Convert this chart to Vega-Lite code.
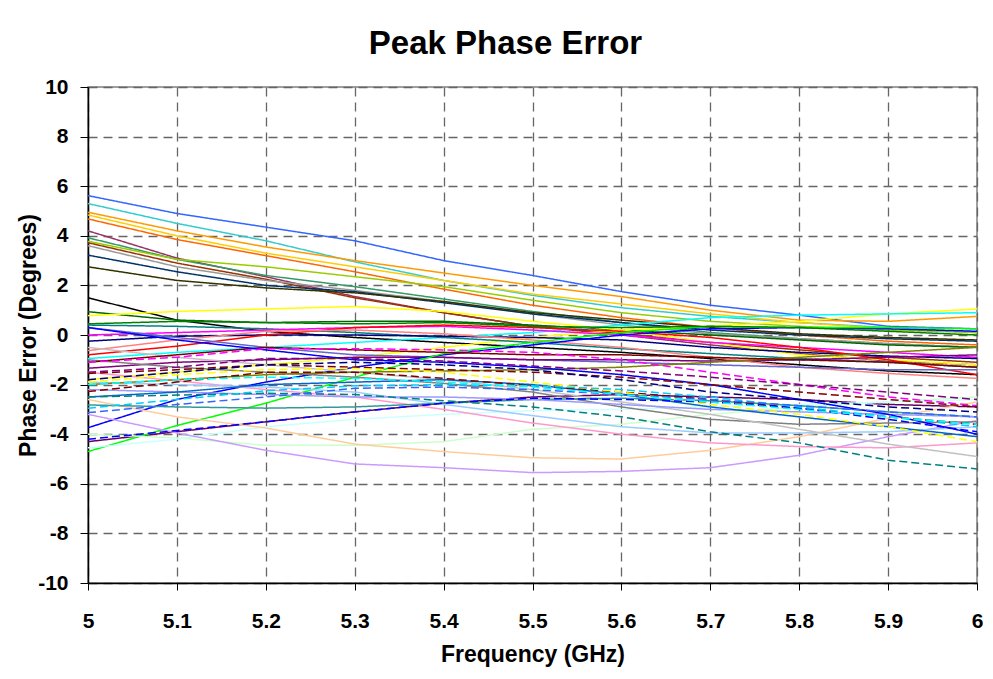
{
"$schema": "https://vega.github.io/schema/vega-lite/v6.json",
"width": 889, "height": 496,
"autosize": {"type": "none"},
"padding": {"left": 88, "top": 87, "right": 16, "bottom": 96},
"background": "white",
"title": {"text": "Peak Phase Error", "font": "Liberation Sans", "fontSize": 33, "fontWeight": "bold", "color": "black", "anchor": "middle", "dx": -27, "offset": 15},
"config": {"view": {"stroke": "#808080", "strokeWidth": 1.5}},
"data": {"values": [
{"s":"a","f":5,"v":5.62},{"s":"a","f":5.1,"v":4.9},{"s":"a","f":5.2,"v":4.35},{"s":"a","f":5.3,"v":3.8},{"s":"a","f":5.4,"v":3.0},{"s":"a","f":5.5,"v":2.4},{"s":"a","f":5.6,"v":1.75},{"s":"a","f":5.7,"v":1.2},{"s":"a","f":5.8,"v":0.8},{"s":"a","f":5.9,"v":0.35},{"s":"a","f":6,"v":0.25},
{"s":"b","f":5,"v":5.3},{"s":"b","f":5.1,"v":4.5},{"s":"b","f":5.2,"v":3.8},{"s":"b","f":5.3,"v":2.95},{"s":"b","f":5.4,"v":2.2},{"s":"b","f":5.5,"v":1.6},{"s":"b","f":5.6,"v":1.1},{"s":"b","f":5.7,"v":0.75},{"s":"b","f":5.8,"v":0.5},{"s":"b","f":5.9,"v":0.3},{"s":"b","f":6,"v":0.1},
{"s":"c","f":5,"v":4.95},{"s":"c","f":5.1,"v":4.2},{"s":"c","f":5.2,"v":3.55},{"s":"c","f":5.3,"v":3.0},{"s":"c","f":5.4,"v":2.5},{"s":"c","f":5.5,"v":2.0},{"s":"c","f":5.6,"v":1.55},{"s":"c","f":5.7,"v":1.0},{"s":"c","f":5.8,"v":0.6},{"s":"c","f":5.9,"v":0.55},{"s":"c","f":6,"v":0.75},
{"s":"d","f":5,"v":4.84},{"s":"d","f":5.1,"v":4.0},{"s":"d","f":5.2,"v":3.3},{"s":"d","f":5.3,"v":2.75},{"s":"d","f":5.4,"v":2.2},{"s":"d","f":5.5,"v":1.65},{"s":"d","f":5.6,"v":1.25},{"s":"d","f":5.7,"v":0.85},{"s":"d","f":5.8,"v":0.5},{"s":"d","f":5.9,"v":0.25},{"s":"d","f":6,"v":0.1},
{"s":"e","f":5,"v":4.68},{"s":"e","f":5.1,"v":3.85},{"s":"e","f":5.2,"v":3.2},{"s":"e","f":5.3,"v":2.55},{"s":"e","f":5.4,"v":1.85},{"s":"e","f":5.5,"v":1.2},{"s":"e","f":5.6,"v":0.7},{"s":"e","f":5.7,"v":0.3},{"s":"e","f":5.8,"v":0.0},{"s":"e","f":5.9,"v":-0.25},{"s":"e","f":6,"v":-0.4},
{"s":"f","f":5,"v":4.2},{"s":"f","f":5.1,"v":3.1},{"s":"f","f":5.2,"v":2.35},{"s":"f","f":5.3,"v":1.55},{"s":"f","f":5.4,"v":0.9},{"s":"f","f":5.5,"v":0.35},{"s":"f","f":5.6,"v":0.0},{"s":"f","f":5.7,"v":-0.4},{"s":"f","f":5.8,"v":-0.75},{"s":"f","f":5.9,"v":-1.05},{"s":"f","f":6,"v":-1.2},
{"s":"g","f":5,"v":3.92},{"s":"g","f":5.1,"v":3.05},{"s":"g","f":5.2,"v":2.4},{"s":"g","f":5.3,"v":1.95},{"s":"g","f":5.4,"v":1.45},{"s":"g","f":5.5,"v":0.95},{"s":"g","f":5.6,"v":0.5},{"s":"g","f":5.7,"v":0.1},{"s":"g","f":5.8,"v":-0.15},{"s":"g","f":5.9,"v":-0.35},{"s":"g","f":6,"v":-0.5},
{"s":"h","f":5,"v":3.78},{"s":"h","f":5.1,"v":3.05},{"s":"h","f":5.2,"v":2.75},{"s":"h","f":5.3,"v":2.35},{"s":"h","f":5.4,"v":1.95},{"s":"h","f":5.5,"v":1.4},{"s":"h","f":5.6,"v":0.9},{"s":"h","f":5.7,"v":0.55},{"s":"h","f":5.8,"v":0.35},{"s":"h","f":5.9,"v":0.2},{"s":"h","f":6,"v":0.1},
{"s":"i","f":5,"v":3.72},{"s":"i","f":5.1,"v":2.9},{"s":"i","f":5.2,"v":2.25},{"s":"i","f":5.3,"v":1.5},{"s":"i","f":5.4,"v":0.9},{"s":"i","f":5.5,"v":0.35},{"s":"i","f":5.6,"v":0.05},{"s":"i","f":5.7,"v":-0.3},{"s":"i","f":5.8,"v":-0.6},{"s":"i","f":5.9,"v":-0.9},{"s":"i","f":6,"v":-1.1},
{"s":"j","f":5,"v":3.6},{"s":"j","f":5.1,"v":2.75},{"s":"j","f":5.2,"v":2.2},{"s":"j","f":5.3,"v":1.8},{"s":"j","f":5.4,"v":1.35},{"s":"j","f":5.5,"v":0.85},{"s":"j","f":5.6,"v":0.4},{"s":"j","f":5.7,"v":0.05},{"s":"j","f":5.8,"v":-0.15},{"s":"j","f":5.9,"v":-0.35},{"s":"j","f":6,"v":-0.5},
{"s":"k","f":5,"v":3.22},{"s":"k","f":5.1,"v":2.55},{"s":"k","f":5.2,"v":2.0},{"s":"k","f":5.3,"v":1.75},{"s":"k","f":5.4,"v":1.3},{"s":"k","f":5.5,"v":0.85},{"s":"k","f":5.6,"v":0.5},{"s":"k","f":5.7,"v":0.2},{"s":"k","f":5.8,"v":0.0},{"s":"k","f":5.9,"v":-0.15},{"s":"k","f":6,"v":-0.25},
{"s":"l","f":5,"v":2.75},{"s":"l","f":5.1,"v":2.2},{"s":"l","f":5.2,"v":1.9},{"s":"l","f":5.3,"v":1.7},{"s":"l","f":5.4,"v":1.35},{"s":"l","f":5.5,"v":0.9},{"s":"l","f":5.6,"v":0.6},{"s":"l","f":5.7,"v":0.3},{"s":"l","f":5.8,"v":0.05},{"s":"l","f":5.9,"v":-0.1},{"s":"l","f":6,"v":-0.2},
{"s":"m","f":5,"v":1.5},{"s":"m","f":5.1,"v":0.6},{"s":"m","f":5.2,"v":0.15},{"s":"m","f":5.3,"v":-0.1},{"s":"m","f":5.4,"v":-0.3},{"s":"m","f":5.5,"v":-0.5},{"s":"m","f":5.6,"v":-0.7},{"s":"m","f":5.7,"v":-0.95},{"s":"m","f":5.8,"v":-1.2},{"s":"m","f":5.9,"v":-1.45},{"s":"m","f":6,"v":-1.6},
{"s":"n","f":5,"v":0.94},{"s":"n","f":5.1,"v":0.6},{"s":"n","f":5.2,"v":0.5},{"s":"n","f":5.3,"v":0.55},{"s":"n","f":5.4,"v":0.55},{"s":"n","f":5.5,"v":0.4},{"s":"n","f":5.6,"v":0.2},{"s":"n","f":5.7,"v":0.0},{"s":"n","f":5.8,"v":-0.2},{"s":"n","f":5.9,"v":-0.4},{"s":"n","f":6,"v":-0.5},
{"s":"o","f":5,"v":0.78},{"s":"o","f":5.1,"v":0.95},{"s":"o","f":5.2,"v":1.05},{"s":"o","f":5.3,"v":1.15},{"s":"o","f":5.4,"v":0.95},{"s":"o","f":5.5,"v":0.55},{"s":"o","f":5.6,"v":0.2},{"s":"o","f":5.7,"v":-0.3},{"s":"o","f":5.8,"v":-0.8},{"s":"o","f":5.9,"v":-1.0},{"s":"o","f":6,"v":-1.2},
{"s":"p","f":5,"v":-1.8},{"s":"p","f":5.1,"v":-1.5},{"s":"p","f":5.2,"v":-1.2},{"s":"p","f":5.3,"v":-0.9},{"s":"p","f":5.4,"v":-0.5},{"s":"p","f":5.5,"v":-0.1},{"s":"p","f":5.6,"v":0.2},{"s":"p","f":5.7,"v":0.35},{"s":"p","f":5.8,"v":0.55},{"s":"p","f":5.9,"v":0.85},{"s":"p","f":6,"v":1.05},
{"s":"q","f":5,"v":-0.95},{"s":"q","f":5.1,"v":-0.7},{"s":"q","f":5.2,"v":-0.5},{"s":"q","f":5.3,"v":-0.3},{"s":"q","f":5.4,"v":-0.1},{"s":"q","f":5.5,"v":0.1},{"s":"q","f":5.6,"v":0.4},{"s":"q","f":5.7,"v":0.7},{"s":"q","f":5.8,"v":0.8},{"s":"q","f":5.9,"v":0.85},{"s":"q","f":6,"v":0.9},
{"s":"r","f":5,"v":0.4},{"s":"r","f":5.1,"v":0.35},{"s":"r","f":5.2,"v":0.25},{"s":"r","f":5.3,"v":0.1},{"s":"r","f":5.4,"v":-0.1},{"s":"r","f":5.5,"v":-0.3},{"s":"r","f":5.6,"v":-0.55},{"s":"r","f":5.7,"v":-0.75},{"s":"r","f":5.8,"v":-0.95},{"s":"r","f":5.9,"v":-1.1},{"s":"r","f":6,"v":-1.3},
{"s":"s","f":5,"v":0.0},{"s":"s","f":5.1,"v":0.1},{"s":"s","f":5.2,"v":0.2},{"s":"s","f":5.3,"v":0.3},{"s":"s","f":5.4,"v":0.35},{"s":"s","f":5.5,"v":0.2},{"s":"s","f":5.6,"v":0.0},{"s":"s","f":5.7,"v":-0.3},{"s":"s","f":5.8,"v":-0.5},{"s":"s","f":5.9,"v":-0.7},{"s":"s","f":6,"v":-0.9},
{"s":"t","f":5,"v":-0.25},{"s":"t","f":5.1,"v":-0.05},{"s":"t","f":5.2,"v":0.0},{"s":"t","f":5.3,"v":0.0},{"s":"t","f":5.4,"v":-0.05},{"s":"t","f":5.5,"v":-0.1},{"s":"t","f":5.6,"v":-0.2},{"s":"t","f":5.7,"v":-0.5},{"s":"t","f":5.8,"v":-0.7},{"s":"t","f":5.9,"v":-0.85},{"s":"t","f":6,"v":-0.95},
{"s":"u","f":5,"v":-0.8},{"s":"u","f":5.1,"v":-0.45},{"s":"u","f":5.2,"v":0.0},{"s":"u","f":5.3,"v":0.3},{"s":"u","f":5.4,"v":0.4},{"s":"u","f":5.5,"v":0.3},{"s":"u","f":5.6,"v":0.15},{"s":"u","f":5.7,"v":-0.1},{"s":"u","f":5.8,"v":-0.5},{"s":"u","f":5.9,"v":-1.0},{"s":"u","f":6,"v":-1.6},
{"s":"v","f":5,"v":-0.63},{"s":"v","f":5.1,"v":-0.2},{"s":"v","f":5.2,"v":0.15},{"s":"v","f":5.3,"v":0.2},{"s":"v","f":5.4,"v":0.05},{"s":"v","f":5.5,"v":-0.2},{"s":"v","f":5.6,"v":-0.5},{"s":"v","f":5.7,"v":-0.9},{"s":"v","f":5.8,"v":-1.3},{"s":"v","f":5.9,"v":-1.55},{"s":"v","f":6,"v":-1.75},
{"s":"w","f":5,"v":0.3},{"s":"w","f":5.1,"v":-0.1},{"s":"w","f":5.2,"v":-0.5},{"s":"w","f":5.3,"v":-0.8},{"s":"w","f":5.4,"v":-0.9},{"s":"w","f":5.5,"v":-1.0},{"s":"w","f":5.6,"v":-1.1},{"s":"w","f":5.7,"v":-1.2},{"s":"w","f":5.8,"v":-1.3},{"s":"w","f":5.9,"v":-1.4},{"s":"w","f":6,"v":-1.4},
{"s":"x","f":5,"v":-1.34},{"s":"x","f":5.1,"v":-1.1},{"s":"x","f":5.2,"v":-1.0},{"s":"x","f":5.3,"v":-0.9},{"s":"x","f":5.4,"v":-0.9},{"s":"x","f":5.5,"v":-1.0},{"s":"x","f":5.6,"v":-1.0},{"s":"x","f":5.7,"v":-1.05},{"s":"x","f":5.8,"v":-1.0},{"s":"x","f":5.9,"v":-0.9},{"s":"x","f":6,"v":-0.8},
{"s":"y","f":5,"v":-3.74},{"s":"y","f":5.1,"v":-2.6},{"s":"y","f":5.2,"v":-1.9},{"s":"y","f":5.3,"v":-1.3},{"s":"y","f":5.4,"v":-0.8},{"s":"y","f":5.5,"v":-0.4},{"s":"y","f":5.6,"v":0.0},{"s":"y","f":5.7,"v":0.25},{"s":"y","f":5.8,"v":0.3},{"s":"y","f":5.9,"v":0.25},{"s":"y","f":6,"v":0.15},
{"s":"z","f":5,"v":-4.3},{"s":"z","f":5.1,"v":-3.9},{"s":"z","f":5.2,"v":-3.5},{"s":"z","f":5.3,"v":-3.1},{"s":"z","f":5.4,"v":-2.75},{"s":"z","f":5.5,"v":-2.5},{"s":"z","f":5.6,"v":-2.4},{"s":"z","f":5.7,"v":-2.5},{"s":"z","f":5.8,"v":-2.6},{"s":"z","f":5.9,"v":-2.8},{"s":"z","f":6,"v":-2.9},
{"s":"aa","f":5,"v":-4.7},{"s":"aa","f":5.1,"v":-3.65},{"s":"aa","f":5.2,"v":-2.75},{"s":"aa","f":5.3,"v":-1.7},{"s":"aa","f":5.4,"v":-0.75},{"s":"aa","f":5.5,"v":-0.3},{"s":"aa","f":5.6,"v":0.1},{"s":"aa","f":5.7,"v":0.35},{"s":"aa","f":5.8,"v":0.3},{"s":"aa","f":5.9,"v":0.3},{"s":"aa","f":6,"v":0.25},
{"s":"ab","f":5,"v":-4.0},{"s":"ab","f":5.1,"v":-4.15},{"s":"ab","f":5.2,"v":-4.45},{"s":"ab","f":5.3,"v":-4.45},{"s":"ab","f":5.4,"v":-4.3},{"s":"ab","f":5.5,"v":-3.8},{"s":"ab","f":5.6,"v":-3.6},{"s":"ab","f":5.7,"v":-3.2},{"s":"ab","f":5.8,"v":-2.9},{"s":"ab","f":5.9,"v":-2.7},{"s":"ab","f":6,"v":-2.5},
{"s":"ac","f":5,"v":-4.55},{"s":"ac","f":5.1,"v":-4.2},{"s":"ac","f":5.2,"v":-3.7},{"s":"ac","f":5.3,"v":-3.4},{"s":"ac","f":5.4,"v":-3.2},{"s":"ac","f":5.5,"v":-3.05},{"s":"ac","f":5.6,"v":-3.0},{"s":"ac","f":5.7,"v":-2.9},{"s":"ac","f":5.8,"v":-2.8},{"s":"ac","f":5.9,"v":-2.7},{"s":"ac","f":6,"v":-2.6},
{"s":"ad","f":5,"v":-3.2},{"s":"ad","f":5.1,"v":-3.95},{"s":"ad","f":5.2,"v":-4.65},{"s":"ad","f":5.3,"v":-5.2},{"s":"ad","f":5.4,"v":-5.35},{"s":"ad","f":5.5,"v":-5.55},{"s":"ad","f":5.6,"v":-5.5},{"s":"ad","f":5.7,"v":-5.35},{"s":"ad","f":5.8,"v":-4.85},{"s":"ad","f":5.9,"v":-4.1},{"s":"ad","f":6,"v":-3.45},
{"s":"ae","f":5,"v":-2.6},{"s":"ae","f":5.1,"v":-3.3},{"s":"ae","f":5.2,"v":-3.75},{"s":"ae","f":5.3,"v":-4.4},{"s":"ae","f":5.4,"v":-4.7},{"s":"ae","f":5.5,"v":-4.95},{"s":"ae","f":5.6,"v":-5.0},{"s":"ae","f":5.7,"v":-4.65},{"s":"ae","f":5.8,"v":-4.1},{"s":"ae","f":5.9,"v":-3.35},{"s":"ae","f":6,"v":-2.7},
{"s":"af","f":5,"v":-1.5},{"s":"af","f":5.1,"v":-1.85},{"s":"af","f":5.2,"v":-2.2},{"s":"af","f":5.3,"v":-2.5},{"s":"af","f":5.4,"v":-3.0},{"s":"af","f":5.5,"v":-3.55},{"s":"af","f":5.6,"v":-4.0},{"s":"af","f":5.7,"v":-4.35},{"s":"af","f":5.8,"v":-4.5},{"s":"af","f":5.9,"v":-4.55},{"s":"af","f":6,"v":-4.35},
{"s":"ag","f":5,"v":-1.9},{"s":"ag","f":5.1,"v":-2.0},{"s":"ag","f":5.2,"v":-2.1},{"s":"ag","f":5.3,"v":-2.3},{"s":"ag","f":5.4,"v":-2.8},{"s":"ag","f":5.5,"v":-3.25},{"s":"ag","f":5.6,"v":-3.7},{"s":"ag","f":5.7,"v":-3.95},{"s":"ag","f":5.8,"v":-3.95},{"s":"ag","f":5.9,"v":-3.9},{"s":"ag","f":6,"v":-3.7},
{"s":"ah","f":5,"v":-1.0},{"s":"ah","f":5.1,"v":-1.3},{"s":"ah","f":5.2,"v":-1.5},{"s":"ah","f":5.3,"v":-1.7},{"s":"ah","f":5.4,"v":-1.95},{"s":"ah","f":5.5,"v":-2.3},{"s":"ah","f":5.6,"v":-2.9},{"s":"ah","f":5.7,"v":-3.4},{"s":"ah","f":5.8,"v":-3.6},{"s":"ah","f":5.9,"v":-3.55},{"s":"ah","f":6,"v":-3.5},
{"s":"ai","f":5,"v":-0.5},{"s":"ai","f":5.1,"v":-0.9},{"s":"ai","f":5.2,"v":-1.2},{"s":"ai","f":5.3,"v":-1.5},{"s":"ai","f":5.4,"v":-1.8},{"s":"ai","f":5.5,"v":-2.2},{"s":"ai","f":5.6,"v":-2.7},{"s":"ai","f":5.7,"v":-3.2},{"s":"ai","f":5.8,"v":-3.8},{"s":"ai","f":5.9,"v":-4.4},{"s":"ai","f":6,"v":-4.9},
{"s":"aj","f":5,"v":-2.82},{"s":"aj","f":5.1,"v":-2.9},{"s":"aj","f":5.2,"v":-2.95},{"s":"aj","f":5.3,"v":-2.9},{"s":"aj","f":5.4,"v":-2.75},{"s":"aj","f":5.5,"v":-2.6},{"s":"aj","f":5.6,"v":-2.55},{"s":"aj","f":5.7,"v":-2.65},{"s":"aj","f":5.8,"v":-2.85},{"s":"aj","f":5.9,"v":-3.1},{"s":"aj","f":6,"v":-3.3},
{"s":"ak","f":5,"v":-2.0},{"s":"ak","f":5.1,"v":-1.8},{"s":"ak","f":5.2,"v":-1.6},{"s":"ak","f":5.3,"v":-1.5},{"s":"ak","f":5.4,"v":-1.45},{"s":"ak","f":5.5,"v":-1.4},{"s":"ak","f":5.6,"v":-1.3},{"s":"ak","f":5.7,"v":-1.1},{"s":"ak","f":5.8,"v":-0.9},{"s":"ak","f":5.9,"v":-0.7},{"s":"ak","f":6,"v":-0.5},
{"s":"al","f":5,"v":-1.1},{"s":"al","f":5.1,"v":-0.8},{"s":"al","f":5.2,"v":-0.5},{"s":"al","f":5.3,"v":-0.6},{"s":"al","f":5.4,"v":-0.7},{"s":"al","f":5.5,"v":-0.8},{"s":"al","f":5.6,"v":-0.8},{"s":"al","f":5.7,"v":-0.9},{"s":"al","f":5.8,"v":-1.0},{"s":"al","f":5.9,"v":-1.1},{"s":"al","f":6,"v":-1.3},
{"s":"am","f":5,"v":-2.2},{"s":"am","f":5.1,"v":-2.3},{"s":"am","f":5.2,"v":-2.4},{"s":"am","f":5.3,"v":-2.5},{"s":"am","f":5.4,"v":-2.5},{"s":"am","f":5.5,"v":-2.6},{"s":"am","f":5.6,"v":-2.8},{"s":"am","f":5.7,"v":-3.0},{"s":"am","f":5.8,"v":-3.1},{"s":"am","f":5.9,"v":-3.2},{"s":"am","f":6,"v":-3.3},
{"s":"an","f":5,"v":0.45},{"s":"an","f":5.1,"v":0.55},{"s":"an","f":5.2,"v":0.5},{"s":"an","f":5.3,"v":0.45},{"s":"an","f":5.4,"v":0.5},{"s":"an","f":5.5,"v":0.35},{"s":"an","f":5.6,"v":0.3},{"s":"an","f":5.7,"v":0.35},{"s":"an","f":5.8,"v":0.3},{"s":"an","f":5.9,"v":0.15},{"s":"an","f":6,"v":0.0},
{"s":"ao","f":5,"v":0.3},{"s":"ao","f":5.1,"v":-0.2},{"s":"ao","f":5.2,"v":-0.6},{"s":"ao","f":5.3,"v":-1.0},{"s":"ao","f":5.4,"v":-1.1},{"s":"ao","f":5.5,"v":-1.3},{"s":"ao","f":5.6,"v":-1.6},{"s":"ao","f":5.7,"v":-2.0},{"s":"ao","f":5.8,"v":-2.6},{"s":"ao","f":5.9,"v":-3.2},{"s":"ao","f":6,"v":-4.0},
{"s":"ap","f":5,"v":-2.5},{"s":"ap","f":5.1,"v":-2.3},{"s":"ap","f":5.2,"v":-2.0},{"s":"ap","f":5.3,"v":-1.9},{"s":"ap","f":5.4,"v":-1.8},{"s":"ap","f":5.5,"v":-2.0},{"s":"ap","f":5.6,"v":-2.4},{"s":"ap","f":5.7,"v":-2.9},{"s":"ap","f":5.8,"v":-3.3},{"s":"ap","f":5.9,"v":-3.7},{"s":"ap","f":6,"v":-4.1},
{"s":"aq","f":5,"v":-1.1},{"s":"aq","f":5.1,"v":-0.9},{"s":"aq","f":5.2,"v":-0.55},{"s":"aq","f":5.3,"v":-0.55},{"s":"aq","f":5.4,"v":-0.6},{"s":"aq","f":5.5,"v":-0.7},{"s":"aq","f":5.6,"v":-1.0},{"s":"aq","f":5.7,"v":-1.5},{"s":"aq","f":5.8,"v":-2.0},{"s":"aq","f":5.9,"v":-2.5},{"s":"aq","f":6,"v":-2.85},
{"s":"ar","f":5,"v":-1.5},{"s":"ar","f":5.1,"v":-1.3},{"s":"ar","f":5.2,"v":-0.95},{"s":"ar","f":5.3,"v":-0.95},{"s":"ar","f":5.4,"v":-1.05},{"s":"ar","f":5.5,"v":-1.25},{"s":"ar","f":5.6,"v":-1.45},{"s":"ar","f":5.7,"v":-1.7},{"s":"ar","f":5.8,"v":-2.0},{"s":"ar","f":5.9,"v":-2.3},{"s":"ar","f":6,"v":-2.6},
{"s":"as","f":5,"v":-2.28},{"s":"as","f":5.1,"v":-1.9},{"s":"as","f":5.2,"v":-1.5},{"s":"as","f":5.3,"v":-1.5},{"s":"as","f":5.4,"v":-1.75},{"s":"as","f":5.5,"v":-2.05},{"s":"as","f":5.6,"v":-2.3},{"s":"as","f":5.7,"v":-2.6},{"s":"as","f":5.8,"v":-2.95},{"s":"as","f":5.9,"v":-3.3},{"s":"as","f":6,"v":-3.6},
{"s":"at","f":5,"v":-1.55},{"s":"at","f":5.1,"v":-1.4},{"s":"at","f":5.2,"v":-1.2},{"s":"at","f":5.3,"v":-1.3},{"s":"at","f":5.4,"v":-1.4},{"s":"at","f":5.5,"v":-1.5},{"s":"at","f":5.6,"v":-1.7},{"s":"at","f":5.7,"v":-2.0},{"s":"at","f":5.8,"v":-2.3},{"s":"at","f":5.9,"v":-2.6},{"s":"at","f":6,"v":-2.9},
{"s":"au","f":5,"v":-1.9},{"s":"au","f":5.1,"v":-1.6},{"s":"au","f":5.2,"v":-1.4},{"s":"au","f":5.3,"v":-1.35},{"s":"au","f":5.4,"v":-1.5},{"s":"au","f":5.5,"v":-1.9},{"s":"au","f":5.6,"v":-2.3},{"s":"au","f":5.7,"v":-2.8},{"s":"au","f":5.8,"v":-3.2},{"s":"au","f":5.9,"v":-3.7},{"s":"au","f":6,"v":-4.3},
{"s":"av","f":5,"v":-4.2},{"s":"av","f":5.1,"v":-3.85},{"s":"av","f":5.2,"v":-3.5},{"s":"av","f":5.3,"v":-3.1},{"s":"av","f":5.4,"v":-2.75},{"s":"av","f":5.5,"v":-2.55},{"s":"av","f":5.6,"v":-2.6},{"s":"av","f":5.7,"v":-2.7},{"s":"av","f":5.8,"v":-2.95},{"s":"av","f":5.9,"v":-3.4},{"s":"av","f":6,"v":-3.9},
{"s":"aw","f":5,"v":-2.5},{"s":"aw","f":5.1,"v":-2.42},{"s":"aw","f":5.2,"v":-2.35},{"s":"aw","f":5.3,"v":-2.4},{"s":"aw","f":5.4,"v":-2.65},{"s":"aw","f":5.5,"v":-2.9},{"s":"aw","f":5.6,"v":-3.3},{"s":"aw","f":5.7,"v":-3.9},{"s":"aw","f":5.8,"v":-4.35},{"s":"aw","f":5.9,"v":-5.05},{"s":"aw","f":6,"v":-5.4},
{"s":"ax","f":5,"v":-2.95},{"s":"ax","f":5.1,"v":-2.6},{"s":"ax","f":5.2,"v":-2.25},{"s":"ax","f":5.3,"v":-2.05},{"s":"ax","f":5.4,"v":-2.0},{"s":"ax","f":5.5,"v":-2.05},{"s":"ax","f":5.6,"v":-2.2},{"s":"ax","f":5.7,"v":-2.5},{"s":"ax","f":5.8,"v":-2.9},{"s":"ax","f":5.9,"v":-3.3},{"s":"ax","f":6,"v":-3.7},
{"s":"ay","f":5,"v":-3.13},{"s":"ay","f":5.1,"v":-2.8},{"s":"ay","f":5.2,"v":-2.5},{"s":"ay","f":5.3,"v":-2.15},{"s":"ay","f":5.4,"v":-2.1},{"s":"ay","f":5.5,"v":-2.2},{"s":"ay","f":5.6,"v":-2.4},{"s":"ay","f":5.7,"v":-2.6},{"s":"ay","f":5.8,"v":-2.85},{"s":"ay","f":5.9,"v":-3.1},{"s":"ay","f":6,"v":-3.3},
{"s":"az","f":5,"v":-1.8},{"s":"az","f":5.1,"v":-1.5},{"s":"az","f":5.2,"v":-1.2},{"s":"az","f":5.3,"v":-1.1},{"s":"az","f":5.4,"v":-1.2},{"s":"az","f":5.5,"v":-1.4},{"s":"az","f":5.6,"v":-1.8},{"s":"az","f":5.7,"v":-2.3},{"s":"az","f":5.8,"v":-2.6},{"s":"az","f":5.9,"v":-2.9},{"s":"az","f":6,"v":-3.1},
{"s":"ba","f":5,"v":-2.0},{"s":"ba","f":5.1,"v":-1.8},{"s":"ba","f":5.2,"v":-1.7},{"s":"ba","f":5.3,"v":-1.75},{"s":"ba","f":5.4,"v":-1.9},{"s":"ba","f":5.5,"v":-2.1},{"s":"ba","f":5.6,"v":-2.4},{"s":"ba","f":5.7,"v":-2.7},{"s":"ba","f":5.8,"v":-3.0},{"s":"ba","f":5.9,"v":-3.3},{"s":"ba","f":6,"v":-3.6}
]},
"mark": {"type": "line", "strokeWidth": 1.5, "clip": true},
"encoding": {
"x": {"field": "f", "type": "quantitative", "scale": {"domain": [5, 6], "nice": false, "zero": false},
 "axis": {"title": "Frequency (GHz)", "values": [5, 5.1, 5.2, 5.3, 5.4, 5.5, 5.6, 5.7, 5.8, 5.9, 6], "format": "~g",
  "labelFont": "Liberation Sans", "labelFontSize": 21, "labelFontWeight": "bold", "labelColor": "black", "labelPadding": 20, "labelFlush": false,
  "titleFont": "Liberation Sans", "titleFontSize": 23, "titleFontWeight": "bold", "titleColor": "black", "titlePadding": 12,
  "tickSize": 7, "tickColor": "black", "domainColor": "black", "domainWidth": 1.5,
  "grid": true, "gridColor": "#666666", "gridDash": [9, 6], "gridWidth": 1.3}},
"y": {"field": "v", "type": "quantitative", "scale": {"domain": [-10, 10], "nice": false, "zero": false},
 "axis": {"title": "Phase Error (Degrees)", "values": [-10, -8, -6, -4, -2, 0, 2, 4, 6, 8, 10], "labelExpr": "'' + datum.value",
  "labelFont": "Liberation Sans", "labelFontSize": 21, "labelFontWeight": "bold", "labelColor": "black", "labelPadding": 12,
  "titleFont": "Liberation Sans", "titleFontSize": 23, "titleFontWeight": "bold", "titleColor": "black", "titlePadding": -3,
  "tickSize": 8, "tickColor": "black", "domainColor": "black", "domainWidth": 1.5,
  "grid": true, "gridColor": "#666666", "gridDash": [9, 6], "gridWidth": 1.3}},
"color": {"field": "s", "type": "nominal", "legend": null,
 "scale": {"domain": ["a","b","c","d","e","f","g","h","i","j","k","l","m","n","o","p","q","r","s","t","u","v","w","x","y","z","aa","ab","ac","ad","ae","af","ag","ah","ai","aj","ak","al","am","an","ao","ap","aq","ar","as","at","au","av","aw","ax","ay","az","ba"],
  "range": ["#3366FF","#33CCCC","#FF9900","#FFCC00","#FF6600","#993366","#339966","#99CC00","#993300","#999999","#003366","#333300","#000000","#006600","#FFFF00","#FFFF00","#00FFFF","#008080","#FF00FF","#000080","#FF0000","#FF8080","#6666CC","#800080","#0000FF","#660066","#00FF00","#CCFFCC","#CCFFFF","#CC99FF","#FFCC99","#FF99CC","#99CCFF","#808080","#C0C0C0","#339999","#808000","#800000","#9999FF","#008000","#0000FF","#0066CC","#FF00FF","#800080","#800000","#800000","#FFFF00","#0000FF","#008080","#00CCFF","#3366FF","#000080","#00FFFF"]}},
"strokeDash": {"field": "s", "type": "nominal", "legend": null,
 "scale": {"domain": ["a","b","c","d","e","f","g","h","i","j","k","l","m","n","o","p","q","r","s","t","u","v","w","x","y","z","aa","ab","ac","ad","ae","af","ag","ah","ai","aj","ak","al","am","an","ao","ap","aq","ar","as","at","au","av","aw","ax","ay","az","ba"],
  "range": [[1,0],[1,0],[1,0],[1,0],[1,0],[1,0],[1,0],[1,0],[1,0],[1,0],[1,0],[1,0],[1,0],[1,0],[1,0],[1,0],[1,0],[1,0],[1,0],[1,0],[1,0],[1,0],[1,0],[1,0],[1,0],[1,0],[1,0],[1,0],[1,0],[1,0],[1,0],[1,0],[1,0],[1,0],[1,0],[1,0],[1,0],[1,0],[1,0],[1,0],[1,0],[1,0],[8,4],[8,4],[8,4],[8,4],[8,4],[8,4],[8,4],[8,4],[8,4],[8,4],[8,4]]}}
}
}
